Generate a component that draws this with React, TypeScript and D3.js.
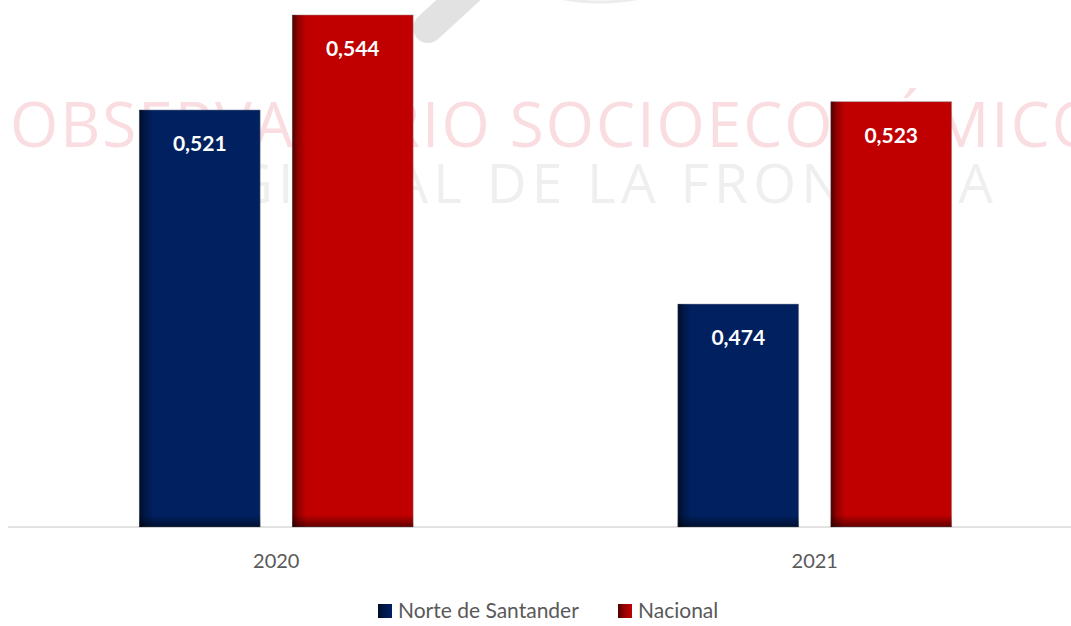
import React from "react";
import * as d3 from "d3";

const years = ["2020", "2021"];
const series = ["Norte de Santander", "Nacional"];
const norteValues = [0.521, 0.474];
const nacionalValues = [0.544, 0.523];
const seriesColors = ["#002060", "#C00000"];

const W = 1071;
const H = 626;
const baseY = 527;

export default function App() {
  // y axis does not start at zero in the original chart
  const y = d3.scaleLinear().domain([0.42, 0.55]).range([baseY, -9.8]);
  const x0 = d3.scaleBand().domain(years).range([7, 1084]);
  const x1 = d3
    .scaleBand()
    .domain(series)
    .range([0, x0.bandwidth()])
    .paddingInner(0.21)
    .paddingOuter(0.865);

  const values = [norteValues, nacionalValues];
  const fmt = (v: number) => d3.format(".3f")(v).replace(".", ",");

  const bars = years.flatMap((yr, i) =>
    series.map((s, j) => ({
      key: yr + s,
      x: (x0(yr) as number) + (x1(s) as number),
      w: x1.bandwidth(),
      top: y(values[j][i]),
      color: seriesColors[j],
      label: fmt(values[j][i]),
    }))
  );

  const font = "Lato, 'Open Sans', sans-serif";

  return (
    <svg
      width={W}
      height={H}
      style={{ position: "absolute", left: 0, top: 0, display: "block", background: "#fff" }}
    >
      <defs>
        <linearGradient id="leftShade" x1="0" y1="0" x2="1" y2="0">
          <stop offset="0" stopColor="#000" stopOpacity={0.6} />
          <stop offset="0.4" stopColor="#000" stopOpacity={0.25} />
          <stop offset="1" stopColor="#000" stopOpacity={0} />
        </linearGradient>
        <linearGradient id="bottomShade" x1="0" y1="0" x2="0" y2="1">
          <stop offset="0" stopColor="#000" stopOpacity={0} />
          <stop offset="1" stopColor="#000" stopOpacity={0.5} />
        </linearGradient>
      </defs>

      {/* watermark logo */}
      <g>
        <ellipse cx={600} cy={-22} rx={72} ry={24} fill="none" stroke="#ececec" strokeWidth={3} />
        <line x1={428} y1={28} x2={478} y2={-18} stroke="#e2e2e2" strokeWidth={30} strokeLinecap="round" />
        <text
          x={10}
          y={147}
          fontFamily="'Open Sans', sans-serif"
          fontWeight={400}
          fontSize={62}
          fill="#f9dde1"
          textLength={1090}
          lengthAdjust="spacing"
        >
          OBSERVATORIO SOCIOECONÓMICO
        </text>
        <text
          x={158}
          y={203}
          fontFamily="'Open Sans', sans-serif"
          fontWeight={400}
          fontSize={55}
          fill="#efefef"
          textLength={835}
          lengthAdjust="spacing"
        >
          REGIONAL DE LA FRONTERA
        </text>
      </g>

      <line x1={8} x2={W} y1={baseY} y2={baseY} stroke="#d9d9d9" strokeWidth={1.5} />

      {bars.map((b) => (
        <g key={b.key}>
          <rect
            x={b.x}
            y={b.top}
            width={b.w}
            height={baseY - b.top}
            fill={b.color}
            stroke="#9a9a9a"
            strokeOpacity={0.6}
            strokeWidth={0.8}
          />
          <rect x={b.x} y={b.top} width={14} height={baseY - b.top} fill="url(#leftShade)" />
          <rect x={b.x} y={baseY - 12} width={b.w} height={12} fill="url(#bottomShade)" />
          <text
            x={b.x + b.w / 2}
            y={b.top + 41}
            textAnchor="middle"
            fontFamily={font}
            fontWeight={700}
            fontSize={21}
            fill="#fff"
          >
            {b.label}
          </text>
        </g>
      ))}

      {years.map((yr) => (
        <text
          key={yr}
          x={(x0(yr) as number) + x0.bandwidth() / 2}
          y={568}
          textAnchor="middle"
          fontFamily={font}
          fontSize={20}
          fill="#595959"
        >
          {yr}
        </text>
      ))}

      {/* legend */}
      {series.map((s, j) => {
        const lx = [378, 618][j];
        return (
          <g key={s}>
            <rect x={lx} y={604} width={14} height={14} fill={seriesColors[j]} />
            <rect x={lx} y={604} width={14} height={14} fill="url(#leftShade)" />
            <text x={lx + 20} y={618} fontFamily={font} fontSize={21} fill="#595959">
              {s}
            </text>
          </g>
        );
      })}
    </svg>
  );
}
